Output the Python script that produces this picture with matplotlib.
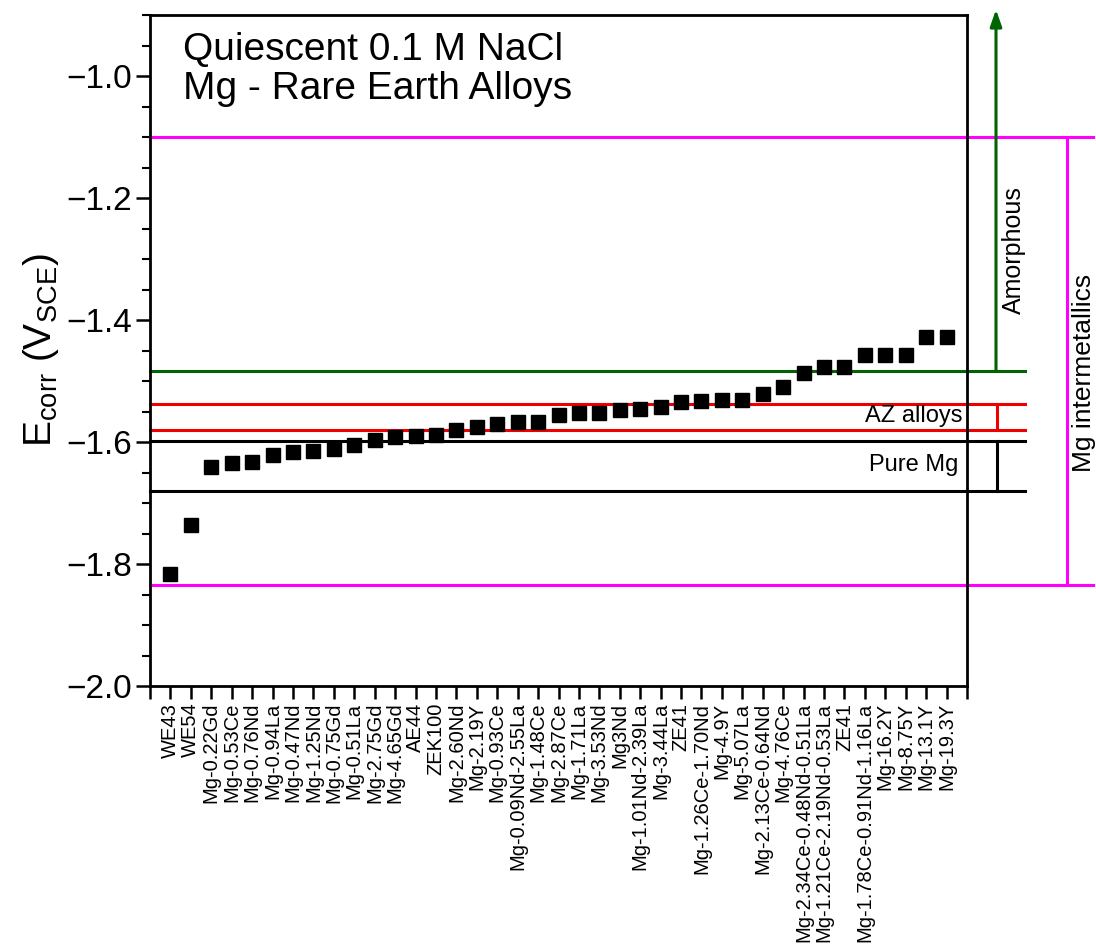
import numpy as np
import matplotlib
matplotlib.use("Agg")
import matplotlib.pyplot as plt

plt.rcParams['font.family'] = ['Liberation Sans', 'DejaVu Sans']
plt.rcParams['mathtext.fontset'] = 'custom'
plt.rcParams['mathtext.rm'] = 'Liberation Sans'
plt.rcParams['mathtext.it'] = 'Liberation Sans'

alloys = ["WE43", "WE54", "Mg-0.22Gd", "Mg-0.53Ce", "Mg-0.76Nd", "Mg-0.94La",
          "Mg-0.47Nd", "Mg-1.25Nd", "Mg-0.75Gd", "Mg-0.51La", "Mg-2.75Gd",
          "Mg-4.65Gd", "AE44", "ZEK100", "Mg-2.60Nd", "Mg-2.19Y", "Mg-0.93Ce",
          "Mg-0.09Nd-2.55La", "Mg-1.48Ce", "Mg-2.87Ce", "Mg-1.71La", "Mg-3.53Nd",
          "Mg3Nd", "Mg-1.01Nd-2.39La", "Mg-3.44La", "ZE41", "Mg-1.26Ce-1.70Nd",
          "Mg-4.9Y", "Mg-5.07La", "Mg-2.13Ce-0.64Nd", "Mg-4.76Ce",
          "Mg-2.34Ce-0.48Nd-0.51La", "Mg-1.21Ce-2.19Nd-0.53La", "ZE41",
          "Mg-1.78Ce-0.91Nd-1.16La", "Mg-16.2Y", "Mg-8.75Y", "Mg-13.1Y", "Mg-19.3Y"]
ecorr = [-1.816, -1.736, -1.641, -1.634, -1.632, -1.622, -1.617, -1.615, -1.611,
         -1.605, -1.596, -1.592, -1.590, -1.589, -1.581, -1.575, -1.571, -1.567,
         -1.567, -1.555, -1.553, -1.552, -1.547, -1.546, -1.543, -1.535, -1.532,
         -1.531, -1.531, -1.521, -1.509, -1.486, -1.477, -1.477, -1.457, -1.457,
         -1.457, -1.427, -1.427]

# reference ranges (V_SCE)
intermetallics = (-1.835, -1.10)
amorphous_low = -1.483
az_alloys = (-1.581, -1.537)
pure_mg = (-1.68, -1.598)

yticks = [-2.0, -1.8, -1.6, -1.4, -1.2, -1.0]
ytick_labels = ["\u22122.0", "\u22121.8", "\u22121.6", "\u22121.4", "\u22121.2", "\u22121.0"]

fig = plt.figure(figsize=(10.96, 9.46), dpi=100)
ax = fig.add_axes([0.1369, 0.2748, 0.7454, 0.7093])

x = np.arange(1, len(alloys) + 1)
ax.plot(x, ecorr, 's', color='black', markersize=10.5, zorder=5)

ax.set_xlim(0, len(alloys) + 1)
ax.set_ylim(-2.0, -0.9)
ax.set_xticks(x)
ax.set_xticklabels(alloys, rotation=90, fontsize=14.5)
ax.set_xticks(np.arange(0, len(alloys) + 2), minor=True)
ax.set_yticks(yticks)
ax.set_yticklabels(ytick_labels, fontsize=24)
ax.set_yticks(np.arange(-2.0, -0.89, 0.05), minor=True)
ax.tick_params(axis='x', which='both', direction='out', length=9, width=1.8, pad=3)
ax.tick_params(axis='y', which='major', direction='out', length=10, width=1.8, pad=3)
ax.tick_params(axis='y', which='minor', direction='out', length=6, width=1.5)
for s in ax.spines.values():
    s.set_linewidth(2)

ax.set_ylabel("E$_{\\mathrm{corr}}$ (V$_{\\mathrm{SCE}}$)", fontsize=28, labelpad=4)

yt = ax.get_yaxis_transform()
lw = 2.2
# horizontal range markers, running past the right spine
for yv in intermetallics:
    ax.plot([0, 1.154], [yv, yv], color='#ff00ff', lw=lw, transform=yt, clip_on=False)
ax.plot([0, 1.071], [amorphous_low] * 2, color='#006400', lw=lw, transform=yt, clip_on=False)
for yv in az_alloys:
    ax.plot([0, 1.071], [yv, yv], color='#ee0000', lw=lw, transform=yt, clip_on=False)
for yv in pure_mg:
    ax.plot([0, 1.071], [yv, yv], color='black', lw=lw, transform=yt, clip_on=False)

# vertical brackets
ax.plot([1.1224, 1.1224], intermetallics, color='#ff00ff', lw=lw, transform=yt, clip_on=False)
ax.plot([1.037, 1.037], az_alloys, color='#ee0000', lw=lw, transform=yt, clip_on=False)
ax.plot([1.037, 1.037], pure_mg, color='black', lw=lw, transform=yt, clip_on=False)
ax.annotate("", xy=(1.0355, -0.891), xytext=(1.0355, amorphous_low),
            xycoords=yt, textcoords=yt, annotation_clip=False,
            arrowprops=dict(arrowstyle='-|>,head_length=1.0,head_width=0.35',
                            color='#006400', lw=lw, shrinkA=0, shrinkB=0))

ax.text(1.058, -1.286, "Amorphous", transform=yt, rotation=90, fontsize=18,
        ha='center', va='center')
ax.text(1.143, -1.487, "Mg intermetallics", transform=yt, rotation=90, fontsize=19,
        ha='center', va='center')
ax.text(0.994, -1.558, "AZ alloys", transform=yt, fontsize=17, ha='right', va='center')
ax.text(0.990, -1.638, "Pure Mg", transform=yt, fontsize=17, ha='right', va='center')

ax.text(0.040, 0.975, "Quiescent 0.1 M NaCl\nMg - Rare Earth Alloys",
        transform=ax.transAxes, fontsize=28, ha='left', va='top', linespacing=1.1)

fig.savefig("out.png", dpi=100)
